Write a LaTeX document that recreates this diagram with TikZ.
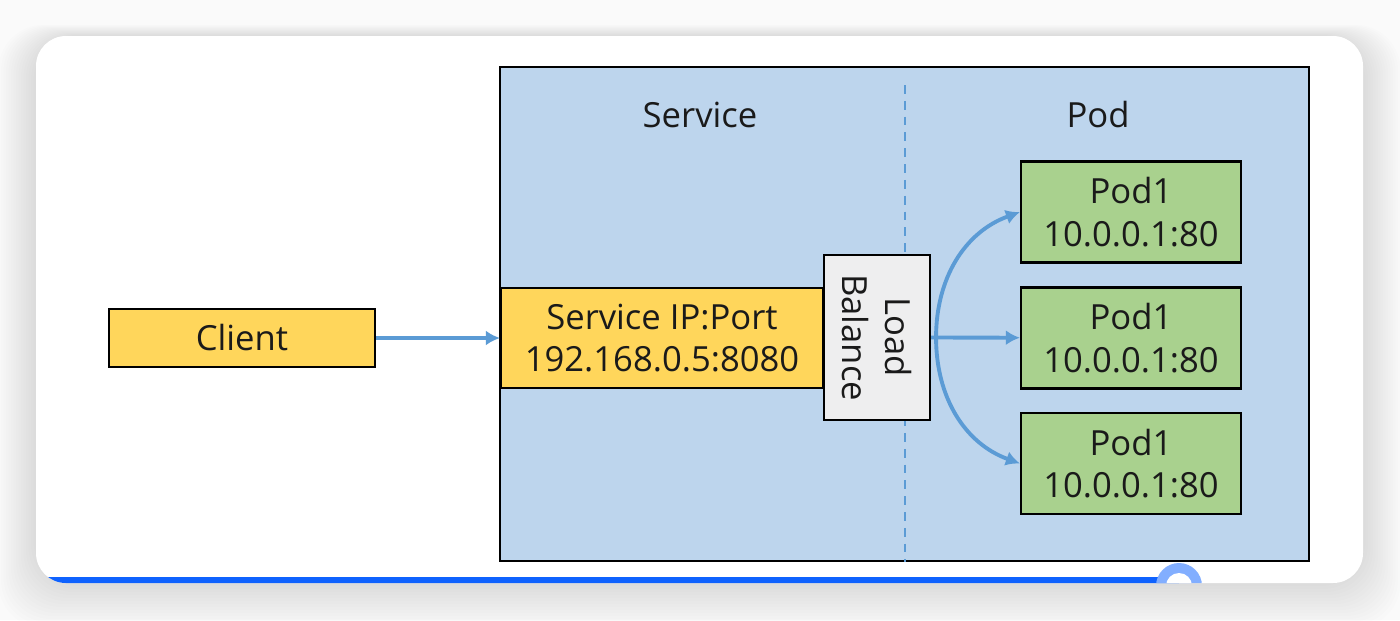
\documentclass[tikz,border=0pt]{standalone}
\usepackage{fontspec}
\setmainfont{Open Sans}
\usepackage{xcolor}
\usepackage{tikz}
\usetikzlibrary{positioning,arrows.meta}

\definecolor{svcblue}{HTML}{BDD5ED}
\definecolor{clientyellow}{HTML}{FFD65B}
\definecolor{podgreen}{HTML}{A9D18E}
\definecolor{lbgray}{HTML}{EEEEEF}
\definecolor{arrowblue}{HTML}{5B9BD5}
\definecolor{barblue}{HTML}{0F62FE}
\definecolor{knobblue}{HTML}{82AEFF}
\definecolor{inkblack}{HTML}{1A1A1A}

\begin{document}
\begin{tikzpicture}[
  box/.style={draw=black, line width=1.2pt, minimum width=4.4cm, minimum height=2.02cm,
              align=center, text=inkblack, font=\fontsize{19.7}{24}\selectfont, inner sep=0pt},
  podbox/.style={box, fill=podgreen},
  title/.style={font=\fontsize{19.7}{24}\selectfont, text=inkblack},
  arr/.style={-{Latex[length=8pt,width=8.5pt]}, draw=arrowblue, line width=2.2pt}
]
  \useasboundingbox (0,0) rectangle (28,-12.4);
  \fill[white!98!black] (0,0) rectangle (28,-12.4);

  % Card with soft shadow
  \foreach \s in {0.05,0.1,...,0.8}
    \fill[black, opacity=0.008, rounded corners=0.9cm]
      (0.72-\s,-0.72+0.3*\s) rectangle (27.26+\s,-11.66-1.2*\s);
  \fill[white, rounded corners=0.6cm] (0.72,-0.72) rectangle (27.26,-11.66);

  % Outer service box
  \node[draw=black, line width=1.2pt, fill=svcblue, minimum width=16.18cm,
        minimum height=9.88cm, inner sep=0pt] (frame) at (18.09,-6.28) {};
  \coordinate (sep top) at (18.1,-1.7);
  \draw[arrowblue, dash pattern=on 5pt off 4pt, line width=0.7pt] (sep top) -- (sep top |- frame.south);

  \node[title] (svctitle) at (14,-2.3) {Service};
  \node[title] (podtitle) at (21.96,-2.3) {Pod};

  % Client and service entry
  \node[box, fill=clientyellow, minimum width=5.32cm, minimum height=1.16cm] (client) at (4.84,-6.76) {Client};
  \node[box, fill=clientyellow, minimum width=6.44cm, minimum height=2cm] (svcip) at (13.24,-6.76)
    {Service IP:Port\\192.168.0.5:8080};

  % Load balancer
  \node[box, fill=lbgray, minimum width=2.12cm, minimum height=3.3cm] (lb) at (17.54,-6.75) {};
  \node[title, rotate=-90, align=center] (lbtext) at (lb) {Load\\Balance};

  % Pods
  \node[podbox] (pod1) at (22.62,-4.24) {Pod1\\10.0.0.1:80};
  \node[podbox] (pod2) at (22.62,-6.76) {Pod1\\10.0.0.1:80};
  \node[podbox] (pod3) at (22.62,-9.27) {Pod1\\10.0.0.1:80};

  \draw[arr] (client) -- (svcip);
  \coordinate (fan) at ([xshift=0.1cm]lb.east);
  \draw[arr] (lb.east) -- (pod2);
  \draw[arr] (fan) to[out=90, in=200] (pod1.west);
  \draw[arr] (fan) to[out=-90, in=160] (pod3.west);

  % Progress bar
  \begin{scope}
    \clip[rounded corners=0.6cm] (0.72,-0.72) rectangle (27.26,-11.66);
    \fill[barblue] (0.72,-11.54) rectangle (23.58,-11.7);
    \fill[knobblue] (23.58,-11.72) circle (0.46);
    \fill[white] (23.58,-11.72) circle (0.26);
  \end{scope}
\end{tikzpicture}
\end{document}
